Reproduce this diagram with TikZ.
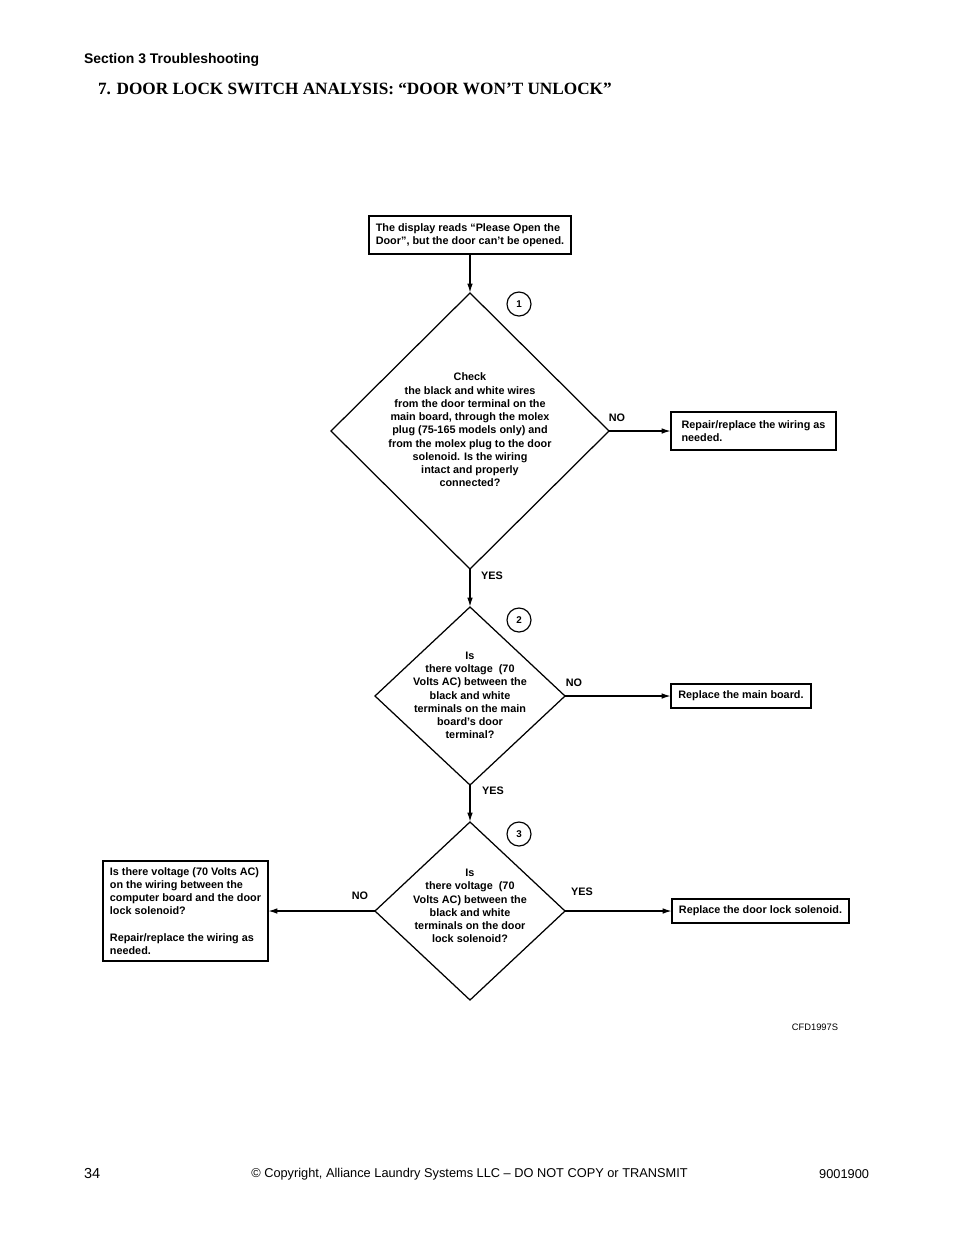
\documentclass[tikz,border=0pt]{standalone}
\usepackage{fontspec}
\setmainfont{Liberation Sans}
\newfontfamily\titlefont{Liberation Serif}
\usetikzlibrary{shapes.geometric,arrows.meta}
\begin{document}
\begin{tikzpicture}[x=0.6415pt,y=-0.6415pt,
  every node/.style={inner sep=0pt,outer sep=0pt},
  txt/.style={font=\fontsize{6.95}{8.5}\selectfont\bfseries},
  box/.style={draw,line width=1.1pt,txt,align=left},
  dia/.style={draw,diamond,line width=0.8pt,inner sep=0pt},
  dtxt/.style={txt,align=center},
  num/.style={draw,circle,line width=0.75pt,minimum size=15.4pt,font=\fontsize{6.3}{7}\selectfont\bfseries},
  lbl/.style={txt},
  conn/.style={line width=1pt,-{Latex[length=6pt,width=3.6pt]}},
  plain/.style={line width=1pt}]
\useasboundingbox (0,0) rectangle (954,1235);
% header
\node[anchor=west,font=\fontsize{8.95}{10}\selectfont\bfseries] (sec) at (84,60) {Section 3 Troubleshooting};
\node[anchor=west,font=\titlefont\fontsize{11.05}{13}\selectfont\bfseries] (title) at (98,89) {7. DOOR LOCK SWITCH ANALYSIS: “DOOR WON’T UNLOCK”};
% start
\node[box,minimum width=129.6pt,minimum height=24.4pt] (start) at (470,235) {The display reads “Please Open the\\Door”, but the door can't be opened.};
% diamond 1
\node[dia,minimum width=178.3pt,minimum height=177.1pt] (d1) at (470,431) {};
\node[dtxt] (d1t) at (470,430) {Check\\the black and white wires\\from the door terminal on the\\main board, through the molex\\plug (75-165 models only) and\\from the molex plug to the door\\solenoid. Is the wiring\\intact and properly\\connected?};
\node[num] (n1) at (519,304) {1};
\node[box,minimum width=105.8pt,minimum height=24.4pt] (r1) at (753.5,431) {Repair/replace the wiring as\\needed.};
\node[lbl] (no1) at (617,418) {NO};
\node[lbl] (yes1) at (492,576) {YES};
% diamond 2
\node[dia,minimum width=121.9pt,minimum height=114.2pt] (d2) at (470,696) {};
\node[dtxt] (d2t) at (470,695.5) {Is\\there voltage\ \ (70\\Volts AC) between the\\black and white\\terminals on the main\\board's door\\terminal?};
\node[num] (n2) at (519,620) {2};
\node[box,minimum width=89.8pt,minimum height=15.4pt] (r2) at (741,696) {Replace the main board.};
\node[lbl] (no2) at (574,683) {NO};
\node[lbl] (yes2) at (493,791) {YES};
% diamond 3
\node[dia,minimum width=121.9pt,minimum height=114.2pt] (d3) at (470,911) {};
\node[dtxt] (d3t) at (470,906) {Is\\there voltage\ \ (70\\Volts AC) between the\\black and white\\terminals on the door\\lock solenoid?};
\node[num] (n3) at (519,834) {3};
\node[box,minimum width=113.5pt,minimum height=15.4pt] (r3) at (760.5,911) {Replace the door lock solenoid.};
\node[box,minimum width=105.8pt,minimum height=64.2pt] (l3) at (185.5,911) {Is there voltage (70 Volts AC)\\on the wiring between the\\computer board and the door\\lock solenoid?\\[8.5pt]Repair/replace the wiring as\\needed.};
\node[lbl] (no3) at (360,896) {NO};
\node[lbl] (yes3) at (582,892) {YES};
% connectors
\draw[conn] (start.south) -- (d1.north);
\draw[conn] (d1.east) -- (r1.west);
\draw[conn] (d1.south) -- (d2.north);
\draw[conn] (d2.east) -- (r2.west);
\draw[conn] (d2.south) -- (d3.north);
\draw[conn] (d3.east) -- (r3.west);
\draw[conn] (d3.west) -- (l3.east);
% code
\node[font=\fontsize{6}{7}\selectfont] (cfd) at (815,1027) {CFD1997S};
% footer
\node[anchor=west,font=\fontsize{9.3}{10}\selectfont] (pg) at (84,1173) {34};
\node[font=\fontsize{8.2}{9}\selectfont] (copy) at (469.5,1174) {© Copyright, Alliance Laundry Systems LLC – DO NOT COPY or TRANSMIT};
\node[anchor=east,font=\fontsize{8.2}{9}\selectfont] (doc) at (869,1174) {9001900};
\end{tikzpicture}
\end{document}
